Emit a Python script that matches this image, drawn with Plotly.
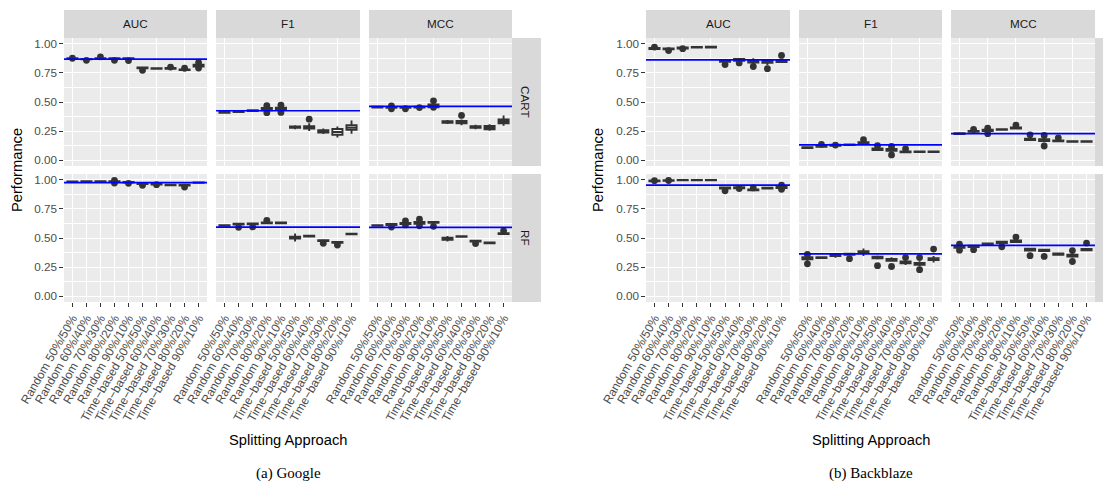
import plotly.graph_objects as go

# The page places the figure 8px from the top-left corner (default body margin),
# so the figure is sized to fit the 1111x491 window from there.
PAGE_OFF = 8
W, H = 1103, 475

CATS = ["Random 50%/50%", "Random 60%/40%", "Random 70%/30%", "Random 80%/20%", "Random 90%/10%",
        "Time\u2212based 50%/50%", "Time\u2212based 60%/40%", "Time\u2212based 70%/30%",
        "Time\u2212based 80%/20%", "Time\u2212based 90%/10%"]
METRICS = ["AUC", "F1", "MCC"]
MODELS = ["CART", "RF"]
Y_TICKS = [0, 0.25, 0.5, 0.75, 1.0]
Y_TICK_TEXT = ["0.00", "0.25", "0.50", "0.75", "1.00"]

# ---- Google: (lower whisker, q1, median, q3, upper whisker) per category; outliers as (category index, value)
G_CART_AUC = [(.868, .871, .874, .877, .880), (.862, .866, .868, .871, .874), (.868, .871, .873, .876, .879),
              (.866, .870, .873, .876, .879), (.866, .870, .873, .876, .879), (.786, .790, .793, .797, .800),
              (.782, .785, .787, .790, .792), (.782, .786, .789, .792, .795), (.770, .774, .777, .780, .783),
              (.795, .805, .812, .820, .830)]
G_CART_AUC_OUT = [(0, .876), (1, .858), (2, .888), (3, .858), (4, .856), (5, .772), (7, .800), (8, .790),
                  (9, .838), (9, .792)]
G_CART_F1 = [(.405, .408, .411, .414, .417), (.410, .413, .416, .419, .422), (.420, .423, .426, .429, .432),
             (.420, .428, .438, .448, .458), (.420, .430, .440, .452, .462), (.265, .278, .284, .290, .300),
             (.250, .272, .282, .292, .318), (.225, .238, .248, .258, .272), (.195, .218, .242, .268, .290),
             (.228, .262, .280, .300, .342)]
G_CART_F1_OUT = [(3, .468), (3, .408), (4, .472), (4, .410), (6, .352)]
G_CART_MCC = [(.450, .453, .456, .459, .462), (.445, .450, .454, .458, .462), (.448, .451, .454, .457, .460),
              (.450, .453, .456, .459, .462), (.445, .455, .468, .480, .490), (.312, .322, .328, .334, .345),
              (.300, .318, .328, .338, .350), (.265, .278, .285, .292, .305), (.252, .265, .280, .295, .308),
              (.295, .318, .335, .350, .385)]
G_CART_MCC_OUT = [(1, .466), (1, .442), (2, .442), (3, .452), (4, .510), (4, .455), (6, .385)]
G_RF_AUC = [(.980, .983, .985, .987, .989), (.982, .984, .986, .988, .990), (.983, .985, .987, .989, .991),
            (.976, .980, .984, .988, .992), (.972, .976, .979, .982, .985), (.960, .963, .966, .969, .972),
            (.957, .960, .964, .968, .971), (.950, .953, .955, .957, .960), (.948, .951, .954, .957, .960),
            (.972, .974, .976, .978, .980)]
G_RF_AUC_OUT = [(3, .995), (3, .972), (4, .970), (5, .953), (6, .958), (8, .938)]
G_RF_F1 = [(.602, .605, .608, .611, .614), (.612, .616, .619, .622, .626), (.615, .618, .621, .624, .628),
           (.622, .626, .630, .634, .638), (.622, .626, .630, .634, .638), (.470, .495, .503, .512, .538),
           (.510, .513, .516, .519, .522), (.470, .474, .478, .482, .486), (.455, .459, .463, .467, .471),
           (.528, .531, .534, .537, .540)]
G_RF_F1_OUT = [(1, .592), (2, .595), (3, .652), (7, .455), (8, .440)]
G_RF_MCC = [(.602, .605, .608, .611, .614), (.608, .612, .616, .620, .624), (.615, .620, .625, .630, .635),
            (.615, .622, .630, .638, .645), (.625, .630, .634, .638, .642), (.470, .485, .494, .502, .518),
            (.506, .510, .513, .516, .520), (.465, .469, .473, .477, .481), (.452, .455, .458, .461, .464),
            (.530, .534, .538, .542, .546)]
G_RF_MCC_OUT = [(1, .594), (2, .648), (2, .612), (3, .662), (3, .605), (4, .600), (7, .452), (9, .562)]
G_BASE_CART = [0.868, 0.425, 0.462]
G_BASE_RF = [0.976, 0.594, 0.592]

# ---- Backblaze
B_CART_AUC = [(.952, .956, .960, .964, .968), (.948, .952, .956, .960, .963), (.956, .960, .964, .968, .971),
              (.964, .967, .970, .973, .976), (.966, .969, .972, .975, .978), (.835, .845, .852, .860, .870),
              (.845, .855, .862, .870, .878), (.825, .840, .848, .856, .875), (.815, .836, .845, .852, .870),
              (.835, .843, .850, .858, .872)]
B_CART_AUC_OUT = [(0, .972), (1, .942), (2, .958), (5, .822), (6, .836), (7, .805), (8, .786), (9, .900)]
B_CART_F1 = [(.102, .105, .108, .111, .114), (.112, .116, .120, .124, .128), (.120, .124, .128, .132, .136),
             (.127, .130, .133, .136, .139), (.142, .146, .150, .154, .158), (.078, .088, .094, .100, .115),
             (.065, .080, .088, .096, .105), (.064, .068, .072, .076, .080), (.066, .069, .072, .075, .078),
             (.066, .069, .072, .075, .078)]
B_CART_F1_OUT = [(1, .136), (2, .130), (4, .176), (5, .125), (6, .118), (6, .045), (7, .098)]
B_CART_MCC = [(.222, .225, .228, .231, .234), (.240, .244, .248, .252, .256), (.245, .250, .256, .262, .268),
              (.258, .261, .264, .267, .270), (.268, .272, .277, .282, .286), (.165, .172, .178, .184, .200),
              (.155, .165, .172, .180, .195), (.158, .162, .166, .170, .174), (.154, .157, .160, .163, .166),
              (.154, .157, .160, .163, .166)]
B_CART_MCC_OUT = [(1, .264), (2, .275), (2, .228), (4, .302), (5, .218), (6, .212), (6, .122), (7, .192)]
B_RF_AUC = [(.985, .988, .991, .994, .997), (.988, .991, .994, .997, 1.0), (.993, .995, .997, .999, 1.0),
            (.993, .995, .997, .999, 1.0), (.993, .995, .997, .999, 1.0), (.920, .925, .930, .935, .940),
            (.922, .927, .932, .937, .942), (.905, .909, .913, .917, .921), (.920, .924, .928, .932, .936),
            (.925, .930, .936, .942, .948)]
B_RF_AUC_OUT = [(0, .993), (1, .994), (5, .905), (6, .925), (7, .930), (9, .955), (9, .918)]
B_RF_F1 = [(.300, .318, .327, .336, .350), (.325, .328, .332, .336, .339), (.330, .344, .350, .356, .368),
           (.350, .355, .360, .365, .370), (.345, .370, .378, .386, .410), (.315, .325, .332, .340, .350),
           (.295, .305, .312, .320, .335), (.268, .282, .290, .298, .315), (.255, .270, .278, .286, .300),
           (.290, .310, .318, .326, .345)]
B_RF_F1_OUT = [(0, .358), (0, .278), (3, .322), (5, .262), (6, .255), (7, .332), (8, .332), (8, .228), (9, .405)]
B_RF_MCC = [(.405, .415, .422, .430, .440), (.418, .422, .428, .434, .438), (.435, .442, .448, .454, .460),
            (.450, .456, .462, .468, .474), (.460, .466, .472, .478, .484), (.385, .393, .400, .407, .414),
            (.380, .388, .394, .400, .406), (.348, .355, .361, .367, .374), (.330, .340, .348, .356, .372),
            (.388, .394, .400, .406, .412)]
B_RF_MCC_OUT = [(0, .448), (0, .395), (1, .400), (3, .425), (4, .508), (5, .348), (6, .342), (8, .392),
                (8, .298), (9, .456)]
B_BASE_CART = [0.862, 0.132, 0.229]
B_BASE_RF = [0.955, 0.364, 0.436]

PANELS = {
    ("G", "CART"): [(G_CART_AUC, G_CART_AUC_OUT), (G_CART_F1, G_CART_F1_OUT), (G_CART_MCC, G_CART_MCC_OUT)],
    ("G", "RF"): [(G_RF_AUC, G_RF_AUC_OUT), (G_RF_F1, G_RF_F1_OUT), (G_RF_MCC, G_RF_MCC_OUT)],
    ("B", "CART"): [(B_CART_AUC, B_CART_AUC_OUT), (B_CART_F1, B_CART_F1_OUT), (B_CART_MCC, B_CART_MCC_OUT)],
    ("B", "RF"): [(B_RF_AUC, B_RF_AUC_OUT), (B_RF_F1, B_RF_F1_OUT), (B_RF_MCC, B_RF_MCC_OUT)],
}
BASES = {("G", "CART"): G_BASE_CART, ("G", "RF"): G_BASE_RF,
         ("B", "CART"): B_BASE_CART, ("B", "RF"): B_BASE_RF}
CAPTIONS = {"G": "(a) Google", "B": "(b) Backblaze"}

# ---- layout geometry (window pixels)
XDOM = {"G": [(64, 207), (216, 360), (369, 512)], "B": [(646, 790), (799, 942), (951, 1095)]}
YDOM = {"CART": (38, 166), "RF": (174, 302)}
STRIP_TOP = 10
STRIP_W = 29
YLAB_X = {"G": 17, "B": 598}

FONT = "Liberation Sans, Arial, sans-serif"
GRAY = "#333333"


def px(x):
    return min((x - PAGE_OFF) / W, 1.0)


def py(y):
    return 1 - (y - PAGE_OFF) / H


fig = go.Figure()
layout = {}
shapes = []
annotations = []
n = 0
for d in ["G", "B"]:
    for r, model in enumerate(MODELS):
        for c, metric in enumerate(METRICS):
            n += 1
            sfx = "" if n == 1 else str(n)
            xa, ya = "x" + sfx, "y" + sfx
            stats, outs = PANELS[(d, model)][c]
            lo, q1, med, q3, hi = zip(*stats)
            fig.add_trace(go.Box(
                x=CATS, q1=list(q1), median=list(med), q3=list(q3),
                lowerfence=list(lo), upperfence=list(hi),
                xaxis=xa, yaxis=ya, width=0.72, whiskerwidth=0,
                fillcolor="white", line=dict(color=GRAY, width=1.9),
                boxpoints=False, showlegend=False, hoverinfo="skip"))
            fig.add_trace(go.Scatter(
                x=[CATS[i] for i, v in outs], y=[v for i, v in outs],
                mode="markers", marker=dict(color=GRAY, size=6.8),
                xaxis=xa, yaxis=ya, showlegend=False, hoverinfo="skip"))
            x0, x1 = XDOM[d][c]
            y0, y1 = YDOM[model]
            layout["xaxis" + sfx] = dict(
                domain=[px(x0), px(x1)], anchor=ya, type="category",
                categoryorder="array", categoryarray=CATS, range=[-0.6, 9.6],
                showgrid=True, gridcolor="white", gridwidth=1.1, zeroline=False, showline=False,
                ticks="outside" if r == 1 else "", ticklen=3.7, tickwidth=1.1, tickcolor=GRAY,
                showticklabels=(r == 1), tickangle=-60,
                tickfont=dict(family=FONT, size=12, color="#4D4D4D"), automargin=False)
            layout["yaxis" + sfx] = dict(
                domain=[py(y1), py(y0)], anchor=xa, range=[-0.05, 1.05],
                tickmode="array", tickvals=Y_TICKS, ticktext=Y_TICK_TEXT,
                showgrid=True, gridcolor="white", gridwidth=1.1, zeroline=False, showline=False,
                minor=dict(tickmode="array", tickvals=[0.125, 0.375, 0.625, 0.875],
                           showgrid=True, gridcolor="white", gridwidth=0.55, ticks=""),
                ticks="outside" if c == 0 else "", ticklen=3.7, tickwidth=1.1, tickcolor=GRAY,
                showticklabels=(c == 0),
                tickfont=dict(family=FONT, size=11.7, color="#4D4D4D"), automargin=False)
            shapes.append(dict(type="line", xref=xa + " domain", x0=0, x1=1, yref=ya,
                               y0=BASES[(d, model)][c], y1=BASES[(d, model)][c],
                               line=dict(color="#0000FF", width=1.7), layer="above"))
            # column strips
            if r == 0:
                shapes.append(dict(type="rect", xref="paper", yref="paper",
                                   x0=px(x0), x1=px(x1), y0=py(YDOM["CART"][0]), y1=py(STRIP_TOP),
                                   fillcolor="#D9D9D9", line=dict(width=0), layer="below"))
                annotations.append(dict(text=metric, xref="paper", yref="paper",
                                        x=px((x0 + x1) / 2), y=py((STRIP_TOP + YDOM["CART"][0]) / 2),
                                        showarrow=False, xanchor="center", yanchor="middle",
                                        font=dict(family=FONT, size=11.7, color="#1A1A1A")))
            # row strips
            if c == 2:
                shapes.append(dict(type="rect", xref="paper", yref="paper",
                                   x0=px(x1), x1=px(x1 + STRIP_W), y0=py(y1), y1=py(y0),
                                   fillcolor="#D9D9D9", line=dict(width=0), layer="below"))
                annotations.append(dict(text=model, xref="paper", yref="paper",
                                        x=(x1 + STRIP_W / 2 - 1.5 - PAGE_OFF) / W, y=py((y0 + y1) / 2),
                                        textangle=90,
                                        showarrow=False, xanchor="center", yanchor="middle",
                                        font=dict(family=FONT, size=11.7, color="#1A1A1A")))
    # axis titles and captions
    xl, xr = XDOM[d][0][0], XDOM[d][2][1]
    annotations.append(dict(text="Performance", xref="paper", yref="paper",
                            x=px(YLAB_X[d]), y=py((YDOM["CART"][0] + YDOM["RF"][1]) / 2),
                            textangle=-90, showarrow=False, xanchor="center", yanchor="middle",
                            font=dict(family=FONT, size=14.7, color="black")))
    annotations.append(dict(text="Splitting Approach", xref="paper", yref="paper",
                            x=px((xl + xr) / 2), y=py(440), showarrow=False,
                            xanchor="center", yanchor="middle",
                            font=dict(family=FONT, size=14.7, color="black")))
    annotations.append(dict(text=CAPTIONS[d], xref="paper", yref="paper",
                            x=px((xl + xr) / 2), y=py(473), showarrow=False,
                            xanchor="center", yanchor="middle",
                            font=dict(family="Liberation Serif, serif", size=15, color="black")))

fig.update_layout(
    width=W, height=H, autosize=False,
    margin=dict(l=0, r=0, t=0, b=0),
    paper_bgcolor="white", plot_bgcolor="#EBEBEB",
    shapes=shapes, annotations=annotations, showlegend=False,
    **layout)

fig.write_html("out.html")
